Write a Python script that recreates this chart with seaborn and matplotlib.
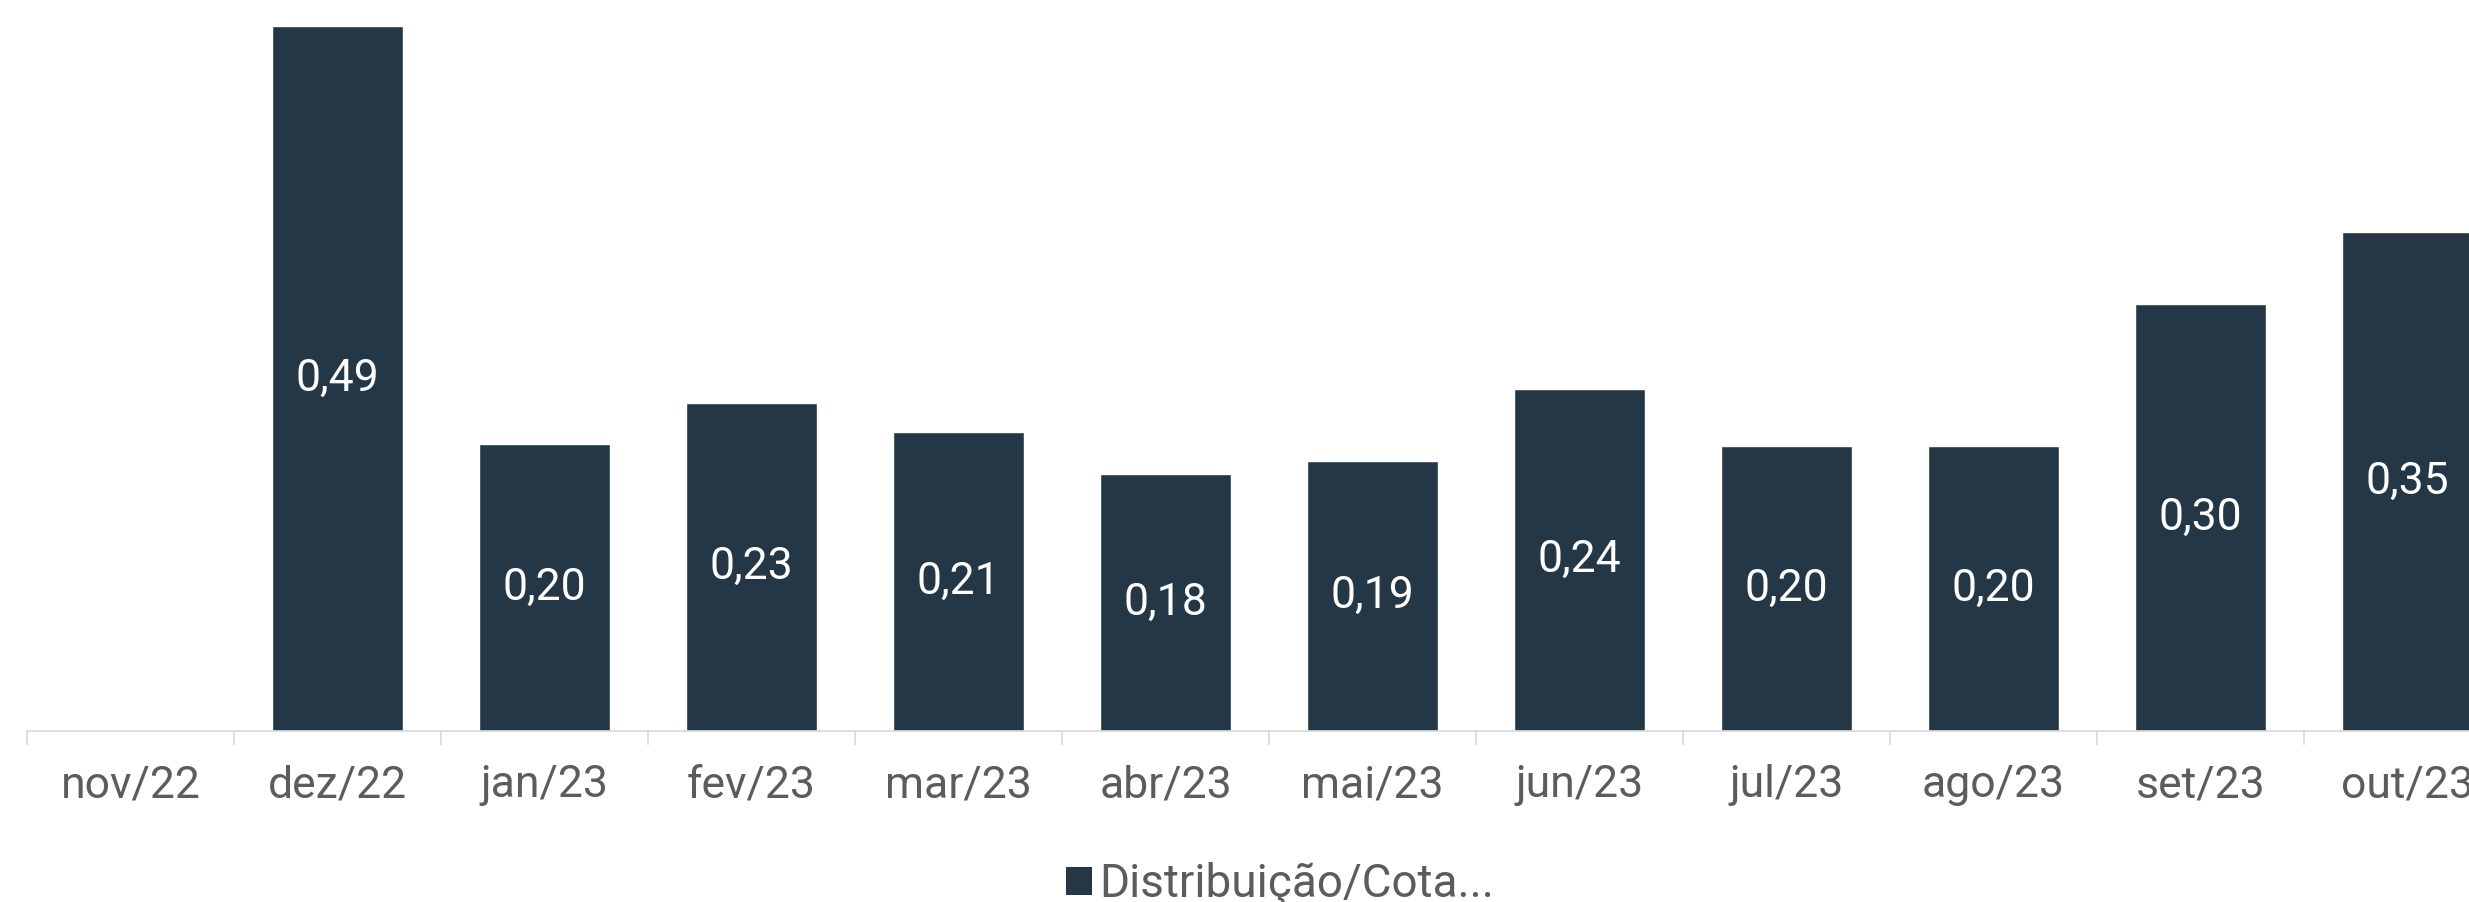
import matplotlib
matplotlib.use("Agg")
import matplotlib.pyplot as plt
from matplotlib.patches import Patch
from matplotlib.ticker import FixedLocator
import seaborn as sns

# dados
months = ["nov/22", "dez/22", "jan/23", "fev/23", "mar/23", "abr/23",
          "mai/23", "jun/23", "jul/23", "ago/23", "set/23", "out/23"]
values = [0.0, 0.49, 0.1995, 0.228, 0.208, 0.1786,
          0.188, 0.238, 0.198, 0.198, 0.297, 0.347]
legend_label = "Distribuição/Cota..."

bar_color = "#243746"
text_gray = "#5c5c5c"
axis_gray = "#d9d9d9"

sns.set_theme(style="white")
plt.rcParams["font.family"] = ["Roboto", "DejaVu Sans"]

W, H = 2469, 902
fig = plt.figure(figsize=(W / 100, H / 100), dpi=100)
# eixo maior que a figura: o último mês fica cortado à direita
ax = fig.add_axes([27 / W, (H - 731) / H, 2484 / W, 719 / H])

sns.barplot(x=months, y=values, color=bar_color, saturation=1,
            width=0.63, ax=ax)

labels = ["" if v == 0 else f"{v:.2f}".replace(".", ",") for v in values]
ax.bar_label(ax.containers[0], labels=labels, label_type="center",
             color="white", fontsize=32)

ax.set_xlim(-0.5, len(months) - 0.5)
ax.set_ylim(0, 0.5)
ax.set_yticks([])
ax.set_xlabel("")
ax.set_ylabel("")
for s in ["top", "right", "left"]:
    ax.spines[s].set_visible(False)
ax.spines["bottom"].set_color(axis_gray)
ax.spines["bottom"].set_linewidth(1.2)

ax.tick_params(axis="x", which="major", length=0, pad=24,
               labelsize=32, labelcolor=text_gray)
ax.xaxis.set_minor_locator(FixedLocator([i - 0.5 for i in range(len(months) + 1)]))
ax.tick_params(axis="x", which="minor", length=10, width=1.2,
               color=axis_gray, bottom=True)

handle = Patch(facecolor=bar_color, edgecolor="none")
fig.legend([handle], [legend_label], loc="center left",
           bbox_to_anchor=(1066 / W, 1 - 884 / H), frameon=False,
           fontsize=33, labelcolor=text_gray, handlelength=0.57,
           handleheight=0.57, handletextpad=0.15, borderpad=0,
           borderaxespad=0)

fig.savefig("out.png", dpi=100)
